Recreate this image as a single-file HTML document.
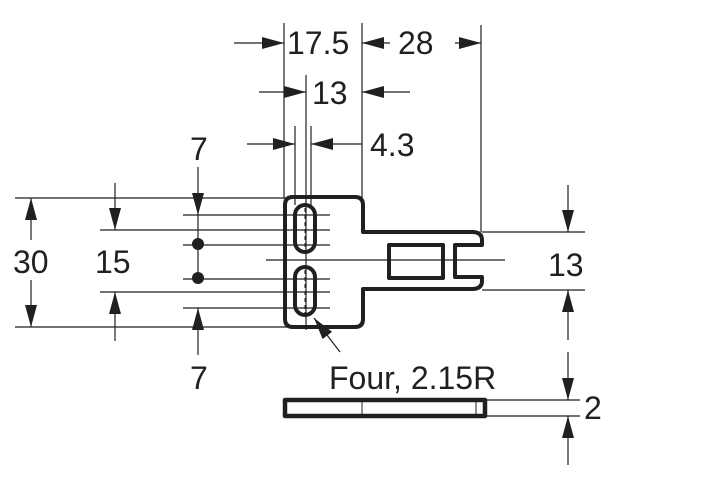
<!DOCTYPE html>
<html><head><meta charset="utf-8"><style>
html,body{margin:0;padding:0;background:#fff;}
svg{display:block;}
text{font-family:"Liberation Sans",sans-serif;font-size:32px;fill:#231f20;}
</style></head><body>
<svg width="712" height="500" viewBox="0 0 712 500" xmlns="http://www.w3.org/2000/svg">
<defs>
<marker id="a" viewBox="0 0 22 12" refX="22" refY="6" markerWidth="22" markerHeight="12" markerUnits="userSpaceOnUse" orient="auto"><path d="M0,0 L22,6 L0,12 z" fill="#231f20"/></marker>
</defs>
<g stroke="#231f20" stroke-width="1.2" fill="none">
<line x1="15" y1="198" x2="288" y2="198"/>
<line x1="183" y1="215" x2="330" y2="215"/>
<line x1="100" y1="230" x2="330" y2="230"/>
<line x1="183" y1="245" x2="330" y2="245"/>
<line x1="266" y1="260" x2="505" y2="260"/>
<line x1="183" y1="279" x2="330" y2="279"/>
<line x1="100" y1="292" x2="330" y2="292"/>
<line x1="183" y1="308" x2="330" y2="308"/>
<line x1="15" y1="327" x2="288" y2="327"/>
<line x1="482" y1="232" x2="585" y2="232"/>
<line x1="482" y1="290" x2="585" y2="290"/>
<line x1="486" y1="400" x2="580" y2="400"/>
<line x1="486" y1="416" x2="580" y2="416"/>
<line x1="284" y1="23" x2="284" y2="198"/>
<line x1="362" y1="23" x2="362" y2="198"/>
<line x1="481" y1="25" x2="481" y2="232"/>
<line x1="306" y1="75" x2="306" y2="330"/>
<line x1="295" y1="126" x2="295" y2="205"/>
<line x1="311" y1="126" x2="311" y2="205"/>
<line x1="234" y1="43" x2="284" y2="43" marker-end="url(#a)"/>
<line x1="390" y1="43" x2="362" y2="43" marker-end="url(#a)"/>
<line x1="455" y1="43" x2="481" y2="43" marker-end="url(#a)"/>
<line x1="259" y1="92" x2="306" y2="92" marker-end="url(#a)"/>
<line x1="410" y1="92" x2="362" y2="92" marker-end="url(#a)"/>
<line x1="247" y1="144" x2="295" y2="144" marker-end="url(#a)"/>
<line x1="362" y1="144" x2="311" y2="144" marker-end="url(#a)"/>
<line x1="31" y1="240" x2="31" y2="198" marker-end="url(#a)"/>
<line x1="31" y1="280" x2="31" y2="327" marker-end="url(#a)"/>
<line x1="115" y1="183" x2="115" y2="230" marker-end="url(#a)"/>
<line x1="115" y1="341" x2="115" y2="292" marker-end="url(#a)"/>
<line x1="198" y1="167" x2="198" y2="215" marker-end="url(#a)"/>
<line x1="198" y1="215" x2="198" y2="279"/>
<line x1="198" y1="355" x2="198" y2="308" marker-end="url(#a)"/>
<line x1="568" y1="185" x2="568" y2="232" marker-end="url(#a)"/>
<line x1="568" y1="340" x2="568" y2="290" marker-end="url(#a)"/>
<line x1="568" y1="352" x2="568" y2="400" marker-end="url(#a)"/>
<line x1="568" y1="465" x2="568" y2="416" marker-end="url(#a)"/>
<line x1="340" y1="352" x2="314" y2="318" marker-end="url(#a)"/>
</g>
<circle cx="198" cy="244" r="6" fill="#231f20"/>
<circle cx="198" cy="278" r="6" fill="#231f20"/>
<g stroke="#231f20" stroke-width="4" fill="none" stroke-linejoin="round">
<path d="M293,197 H355 Q363,197 363,205 V232 H472 Q482,232 482,240 V245 H455 V277 H482 V281 Q482,289 472,289 H363 V319 Q363,327 355,327 H293 Q285,327 285,319 V205 Q285,197 293,197 Z"/>
<rect x="389" y="245" width="54" height="33"/>
<rect x="295" y="205" width="20" height="47" rx="10"/>
<rect x="295" y="267" width="20" height="48" rx="10"/>
<rect x="285" y="400" width="200" height="16" stroke-width="4.5"/>
</g>
<g stroke="#231f20" stroke-width="1" stroke-dasharray="4,3">
<line x1="305" y1="208" x2="305" y2="250"/>
<line x1="305" y1="270" x2="305" y2="313"/>
</g>
<g stroke="#231f20" stroke-width="1">
<line x1="362" y1="402" x2="362" y2="414"/>
<line x1="476" y1="402" x2="476" y2="414"/>
</g>
<text x="287" y="54">17.5</text>
<text x="398" y="54">28</text>
<text x="312" y="104">13</text>
<text x="370" y="156">4.3</text>
<text x="13" y="273">30</text>
<text x="95" y="273">15</text>
<text x="190" y="160">7</text>
<text x="190" y="389">7</text>
<text x="548" y="276">13</text>
<text x="329" y="389">Four, 2.15R</text>
<text x="584" y="419">2</text>
</svg>
</body></html>
